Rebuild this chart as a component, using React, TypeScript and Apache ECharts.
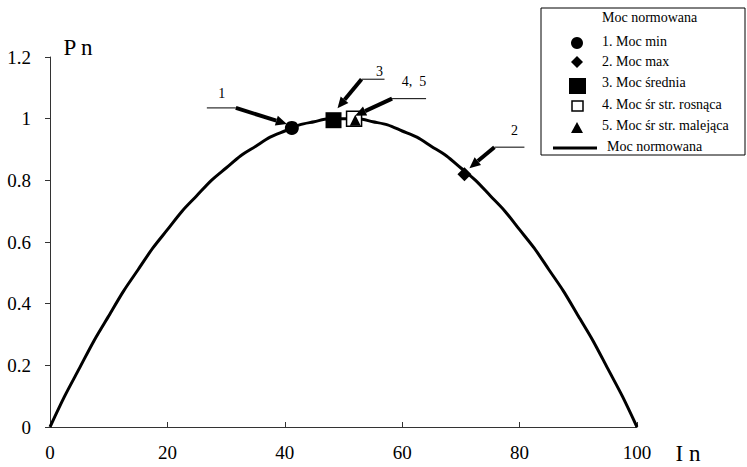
import React, { useEffect, useRef } from "react";
import * as echarts from "echarts";

// Curve: Moc normowana (Pn) vs In
const curveX = [0, 2.5, 5, 7.5, 10, 12.5, 15, 17.5, 20, 22.5, 25, 27.5, 30, 32.5, 35, 37.5, 40, 42.5, 45, 47.5, 50, 52.5, 55, 57.5, 60, 62.5, 65, 67.5, 70, 72.5, 75, 77.5, 80, 82.5, 85, 87.5, 90, 92.5, 95, 97.5, 100];
const curveY = [0, 0.1, 0.19, 0.28, 0.36, 0.44, 0.51, 0.58, 0.64, 0.7, 0.75, 0.8, 0.84, 0.88, 0.91, 0.94, 0.96, 0.98, 0.99, 1.0, 1.0, 1.0, 0.99, 0.98, 0.96, 0.94, 0.91, 0.88, 0.84, 0.8, 0.75, 0.7, 0.64, 0.58, 0.51, 0.44, 0.36, 0.28, 0.19, 0.1, 0];

// Points
const minPt = [41.2, 0.97];
const maxPt = [70.6, 0.82];
const meanPt = [48.3, 0.995];
const risePt = [51.8, 1.0];
const fallPt = [52.0, 0.995];

const xTicks = { min: 0, max: 100, interval: 20 };
const yTicks = { min: 0, max: 1.2, interval: 0.2 };

const legendItems = ["1. Moc min", "2. Moc max", "3. Moc średnia", "4. Moc śr str. rosnąca", "5. Moc śr str. malejąca"];
const legendTitle = "Moc normowana";
const lineName = "Moc normowana";

const FONT = "Times New Roman, Liberation Serif, DejaVu Serif, serif";

function arrow(tail: number[], tip: number[]) {
  const dx = tip[0] - tail[0];
  const dy = tip[1] - tail[1];
  const len = Math.sqrt(dx * dx + dy * dy);
  const ux = dx / len, uy = dy / len;
  const hl = 11, hw = 5;
  const bx = tip[0] - ux * hl, by = tip[1] - uy * hl;
  return [
    { type: "line", shape: { x1: tail[0], y1: tail[1], x2: bx, y2: by }, style: { stroke: "#000", lineWidth: 4 }, z: 50 },
    {
      type: "polygon",
      shape: { points: [[tip[0], tip[1]], [bx - uy * hw, by + ux * hw], [bx + uy * hw, by - ux * hw]] },
      style: { fill: "#000" },
      z: 50,
    },
  ];
}

function txt(x: number, y: number, text: string, size: number, align = "center", z = 55) {
  return {
    type: "text",
    x,
    y,
    z,
    style: { text, fontFamily: FONT, fontSize: size, fill: "#000", align, verticalAlign: "middle" },
  };
}

export default function App() {
  const ref = useRef<HTMLDivElement>(null);
  useEffect(() => {
    document.body.style.margin = "0";
    const chart = echarts.init(ref.current!, null, { renderer: "svg" });
    const pt = (x: number, y: number) => [x, y];
    chart.setOption({
      animation: false,
      backgroundColor: "#fff",
      textStyle: { fontFamily: FONT },
      grid: { left: 50, right: 110, top: 57, bottom: 40 },
      xAxis: {
        type: "value",
        ...xTicks,
        axisLine: { lineStyle: { color: "#333", width: 1 } },
        axisTick: { inside: true, length: 5, lineStyle: { color: "#333" } },
        axisLabel: { color: "#000", fontSize: 19, margin: 16, fontFamily: FONT },
        splitLine: { show: false },
      },
      yAxis: {
        type: "value",
        ...yTicks,
        axisLine: { show: true, lineStyle: { color: "#333", width: 1 } },
        axisTick: { show: true, inside: false, length: 5, lineStyle: { color: "#333" } },
        axisLabel: { color: "#000", fontSize: 19, margin: 19, fontFamily: FONT },
        splitLine: { show: false },
      },
      series: [
        {
          name: lineName,
          type: "line",
          data: curveX.map((x, i) => pt(x, curveY[i])),
          showSymbol: false,
          smooth: 0.3,
          lineStyle: { color: "#000", width: 3 },
          z: 2,
        },
        { name: legendItems[0], type: "scatter", data: [minPt], symbol: "circle", symbolSize: 14, itemStyle: { color: "#000", opacity: 1 }, z: 5 },
        { name: legendItems[1], type: "scatter", data: [maxPt], symbol: "diamond", symbolSize: 14, itemStyle: { color: "#000", opacity: 1 }, z: 5 },
        { name: legendItems[2], type: "scatter", data: [meanPt], symbol: "rect", symbolSize: 16, itemStyle: { color: "#000", opacity: 1 }, z: 5 },
        { name: legendItems[3], type: "scatter", data: [risePt], symbol: "rect", symbolSize: 15, itemStyle: { color: "#fff", borderColor: "#000", borderWidth: 1.5, opacity: 1 }, z: 4 },
        { name: legendItems[4], type: "scatter", data: [fallPt], symbol: "triangle", symbolSize: 11, itemStyle: { color: "#000", opacity: 1 }, z: 6 },
      ],
    });

    const px = (p: number[]) => chart.convertToPixel({ gridIndex: 0 }, p) as number[];
    const pMin = px(minPt), pMax = px(maxPt), pMean = px(meanPt), pRise = px(risePt);
    const add = (a: number[], dx: number, dy: number) => [a[0] + dx, a[1] + dy];

    const ann: any[] = [];
    // 1
    const t1 = add(pMin, -56, -20);
    ann.push(...arrow(t1, add(pMin, -5, -4)));
    ann.push({ type: "line", shape: { x1: t1[0] - 29, y1: t1[1], x2: t1[0], y2: t1[1] }, style: { stroke: "#000", lineWidth: 1 } });
    ann.push(txt(t1[0] - 14, t1[1] - 14, "1", 14));
    // 3
    const t3 = add(pMean, 28, -41);
    ann.push(...arrow(t3, add(pMean, 4, -12)));
    ann.push({ type: "line", shape: { x1: t3[0], y1: t3[1], x2: t3[0] + 23, y2: t3[1] }, style: { stroke: "#000", lineWidth: 1 } });
    ann.push(txt(t3[0] + 18, t3[1] - 8, "3", 14));
    // 4,5
    const t4 = add(pRise, 38, -20);
    ann.push(...arrow(t4, add(pRise, 1, -3)));
    ann.push({ type: "line", shape: { x1: t4[0], y1: t4[1], x2: t4[0] + 34, y2: t4[1] }, style: { stroke: "#000", lineWidth: 1 } });
    ann.push(txt(t4[0] + 22, t4[1] - 17, "4,  5", 14));
    // 2
    const t2 = add(pMax, 30, -27);
    ann.push(...arrow(t2, add(pMax, 5, -6)));
    ann.push({ type: "line", shape: { x1: t2[0], y1: t2[1], x2: t2[0] + 30, y2: t2[1] }, style: { stroke: "#000", lineWidth: 1 } });
    ann.push(txt(t2[0] + 20, t2[1] - 17, "2", 14));

    // axis names
    ann.push(txt(78, 47, "P n", 23));
    ann.push(txt(688, 453, "I n", 23));

    // legend box
    const lx = 541, ly = 8;
    ann.push({ type: "rect", shape: { x: lx, y: ly, width: 204, height: 147 }, style: { fill: "#fff", stroke: "#000", lineWidth: 1 }, z: 60 });
    const ls = 14;
    const cx = 577, tx = 602;
    ann.push(txt(tx, 17, legendTitle, ls, "left", 61));
    const rows = [41, 61, 82, 104, 125];
    const symY = [43, 62, 86, 106, 128];
    legendItems.forEach((t, i) => {
      ann.push(txt(tx, rows[i], t, ls, "left", 61));
    });
    ann.push({ type: "circle", shape: { cx, cy: symY[0], r: 6 }, style: { fill: "#000" }, z: 61 });
    ann.push({ type: "polygon", shape: { points: [[cx, symY[1] - 6], [cx + 6, symY[1]], [cx, symY[1] + 6], [cx - 6, symY[1]]] }, style: { fill: "#000" }, z: 61 });
    ann.push({ type: "rect", shape: { x: cx - 8, y: symY[2] - 8, width: 17, height: 16 }, style: { fill: "#000" }, z: 61 });
    ann.push({ type: "rect", shape: { x: cx - 5, y: symY[3] - 5, width: 11, height: 10 }, style: { fill: "#fff", stroke: "#000", lineWidth: 1.5 }, z: 61 });
    ann.push({ type: "polygon", shape: { points: [[cx, symY[4] - 6], [cx + 6, symY[4] + 5], [cx - 6, symY[4] + 5]] }, style: { fill: "#000" }, z: 61 });
    ann.push({ type: "line", shape: { x1: 553, y1: 148, x2: 597, y2: 148 }, style: { stroke: "#000", lineWidth: 3 }, z: 61 });
    ann.push(txt(607, 146, lineName, ls, "left", 61));

    chart.setOption({ graphic: ann });
    return () => chart.dispose();
  }, []);
  return <div ref={ref} style={{ position: "fixed", left: 0, top: 0, width: 747, height: 467 }} />;
}
